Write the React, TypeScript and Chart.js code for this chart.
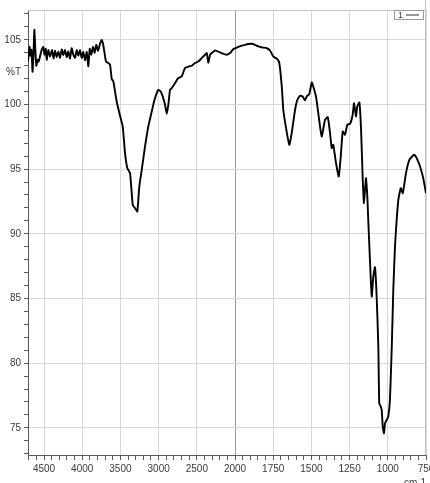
import React, { useEffect, useRef } from 'react';
import { Chart, Scale, registerables } from 'chart.js';

// ---- data ----
const WAVENUMBERS = [
  4710, 4690, 4677, 4664, 4651, 4638, 4627, 4614, 4601, 4585,
  4572, 4553, 4530, 4509, 4496, 4478, 4465, 4444, 4422, 4395,
  4376, 4356, 4334, 4313, 4291, 4268, 4248, 4225, 4203, 4182,
  4160, 4138, 4117, 4094, 4072, 4051, 4029, 4007, 3986, 3963,
  3941, 3920, 3902, 3881, 3859, 3837, 3816, 3793, 3767, 3745,
  3728, 3708, 3689, 3659, 3636, 3614, 3593, 3549, 3505, 3470,
  3440, 3410, 3374, 3339, 3309, 3279, 3253, 3221, 3178, 3135,
  3090, 3060, 3025, 3004, 2973, 2946, 2916, 2894, 2873, 2851,
  2829, 2785, 2742, 2698, 2655, 2611, 2567, 2524, 2480, 2436,
  2393, 2370, 2350, 2327, 2305, 2262, 2196, 2153, 2109, 2065,
  2022, 1989, 1956, 1935, 1913, 1891, 1869, 1847, 1823, 1793,
  1771, 1749, 1723, 1710, 1694, 1684, 1666, 1645, 1629, 1607,
  1592, 1575, 1557, 1542, 1531, 1514, 1498, 1488, 1470, 1455,
  1433, 1411, 1393, 1378, 1367, 1357, 1339, 1321, 1308, 1295,
  1280, 1265, 1247, 1230, 1221, 1208, 1200, 1186, 1175, 1164,
  1156, 1143, 1134, 1128, 1116, 1105, 1095, 1084, 1073, 1062,
  1056, 1046, 1040, 1033, 1025, 1018, 1007, 997, 986, 974,
  964, 953, 942, 931, 915, 902, 881, 859, 828, 811,
  789, 768, 750,
];

const TRANSMITTANCE = [
  103.30, 104.46, 103.76, 104.23, 102.53, 103.84, 105.77, 104.23, 102.99, 103.45,
  103.30, 103.70, 104.25, 104.45, 103.85, 104.30, 103.45, 104.20, 103.70, 104.20,
  103.55, 104.15, 103.65, 104.10, 103.60, 104.25, 103.80, 104.20, 103.65, 104.10,
  103.55, 104.35, 103.85, 103.60, 104.20, 103.75, 104.20, 103.60, 104.05, 103.40,
  104.05, 102.95, 104.30, 103.85, 104.45, 104.00, 104.60, 104.15, 104.70, 104.98,
  104.69, 103.99, 103.32, 103.20, 103.07, 101.98, 101.78, 100.23, 99.12, 98.29,
  96.24, 95.08, 94.69, 92.24, 91.98, 91.72, 93.65, 94.95, 96.75, 98.29,
  99.45, 100.23, 100.88, 101.13, 101.00, 100.61, 99.97, 99.28, 99.97, 101.13,
  101.26, 101.65, 102.04, 102.16, 102.81, 102.93, 102.99, 103.20, 103.32, 103.58,
  103.84, 103.97, 103.22, 103.84, 103.97, 104.17, 104.02, 103.92, 103.84, 103.97,
  104.28, 104.40, 104.54, 104.61, 104.67, 104.69, 104.61, 104.48, 104.40, 104.36,
  104.17, 103.69, 103.51, 103.20, 101.39, 99.59, 98.17, 96.88, 97.78, 99.59,
  100.36, 100.67, 100.61, 100.31, 100.61, 100.80, 101.70, 101.39, 100.61, 99.33,
  97.52, 98.81, 99.02, 97.78, 96.62, 96.88, 95.46, 94.43, 95.97, 97.91,
  97.65, 98.43, 98.50, 99.20, 100.10, 99.07, 99.84, 100.15, 98.04, 94.17,
  92.37, 94.30, 92.88, 91.08, 87.73, 85.15, 86.69, 87.42, 85.15, 81.28,
  76.90, 76.64, 76.39, 75.10, 74.58, 75.36, 75.61, 75.87, 77.16, 81.28,
  85.67, 89.01, 91.08, 92.63, 93.53, 93.14, 94.69, 95.72, 96.11, 95.85,
  95.20, 94.30, 93.14,
];

const X_LABEL_TICKS = [4500, 4000, 3500, 3000, 2500, 2000, 1750, 1500, 1250, 1000, 750];
const Y_LABEL_TICKS = [75, 80, 85, 90, 95, 100, 105];
const SERIES_LABEL = '1';
const Y_TITLE = '%T';
const X_TITLE = 'cm-1';

const X_MIN = 750;
const X_MAX = 4710;
const Y_MIN = 72.9;
const Y_MAX = 107.3;
const X_BREAK = 2000;         // the axis scale halves above this wavenumber
const X_COMPRESS = 2;
const X_MINOR_HIGH = 100;     // minor tick step above the break
const X_MINOR_LOW = 50;       // minor tick step below the break

const FONT_FAMILY = "'Liberation Sans Narrow', 'Liberation Sans', Arial, sans-serif";
const TEXT_COLOR = '#3a3a3a';
const GRID_COLOR = '#d8d8d8';
const AXIS_COLOR = '#5a5a5a';

function toAxisUnits(v: number) {
  return v <= X_BREAK ? v : X_BREAK + (v - X_BREAK) / X_COMPRESS;
}
function fromAxisUnits(u: number) {
  return u <= X_BREAK ? u : X_BREAK + (u - X_BREAK) * X_COMPRESS;
}

class SplitWavenumberScale extends Scale {
  static id = 'splitWavenumber';
  static defaults = {};

  determineDataLimits() {
    this.min = this.options.min;
    this.max = this.options.max;
  }
  buildTicks() {
    const ticks: any[] = [];
    const top = Math.floor(this.max / X_MINOR_HIGH) * X_MINOR_HIGH;
    for (let v = top; v > X_BREAK; v -= X_MINOR_HIGH) ticks.push({ value: v });
    for (let v = X_BREAK; v >= this.min; v -= X_MINOR_LOW) ticks.push({ value: v });
    return ticks;
  }
  getLabelForValue(v: number) {
    return String(v);
  }
  getPixelForValue(v: number) {
    const a = toAxisUnits(this.min);
    const b = toAxisUnits(this.max);
    return this.getPixelForDecimal((b - toAxisUnits(v)) / (b - a));
  }
  getValueForPixel(p: number) {
    const a = toAxisUnits(this.min);
    const b = toAxisUnits(this.max);
    const d = this.getDecimalForPixel(p);
    return fromAxisUnits(b - d * (b - a));
  }
}

Chart.register(...registerables, SplitWavenumberScale);

const decorPlugin = {
  id: 'irDecor',
  beforeDatasetsDraw(chart: any) {
    const { ctx, chartArea: a } = chart;
    ctx.save();
    ctx.strokeStyle = '#c4c4c4';
    ctx.lineWidth = 1;
    ctx.beginPath();
    ctx.moveTo(a.left, Math.round(a.top) + 0.5);
    ctx.lineTo(a.right, Math.round(a.top) + 0.5);
    ctx.moveTo(Math.round(a.right) - 0.5, 0);
    ctx.lineTo(Math.round(a.right) - 0.5, a.bottom);
    ctx.stroke();
    ctx.restore();
  },
  afterDraw(chart: any) {
    const { ctx, chartArea: a, scales } = chart;
    ctx.save();
    ctx.fillStyle = TEXT_COLOR;
    ctx.font = `10px ${FONT_FAMILY}`;
    // y title
    ctx.textAlign = 'right';
    ctx.textBaseline = 'middle';
    ctx.fillText(Y_TITLE, a.left - 7, scales.y.getPixelForValue(102.5));
    // x title
    ctx.textAlign = 'center';
    ctx.textBaseline = 'top';
    ctx.fillText(X_TITLE, a.right - 11, a.bottom + 23);
    // legend box
    const bx = a.right - 32, by = a.top, bw = 29, bh = 9;
    ctx.fillStyle = '#ffffff';
    ctx.fillRect(bx, by, bw, bh);
    ctx.strokeStyle = '#9a9a9a';
    ctx.lineWidth = 1;
    ctx.strokeRect(bx + 0.5, by + 0.5, bw, bh);
    ctx.fillStyle = TEXT_COLOR;
    ctx.textAlign = 'left';
    ctx.textBaseline = 'middle';
    ctx.font = `9px ${FONT_FAMILY}`;
    ctx.fillText(SERIES_LABEL, bx + 4, by + bh / 2 + 1);
    ctx.strokeStyle = '#333';
    ctx.beginPath();
    ctx.moveTo(bx + 12, by + bh / 2 + 0.5);
    ctx.lineTo(bx + 25, by + bh / 2 + 0.5);
    ctx.stroke();
    ctx.restore();
  },
};

export default function App() {
  const ref = useRef<HTMLCanvasElement | null>(null);

  useEffect(() => {
    document.body.style.margin = '0';
    const canvas = ref.current;
    if (!canvas) return;
    const points = WAVENUMBERS.map((w, i) => ({ x: w, y: TRANSMITTANCE[i] }));
    const chart = new Chart(canvas, {
      type: 'line',
      data: {
        datasets: [
          {
            label: SERIES_LABEL,
            data: points,
            borderColor: '#000000',
            borderWidth: 1.9,
            pointRadius: 0,
            tension: 0.15,
            fill: false,
          },
        ],
      },
      options: {
        animation: false,
        responsive: false,
        devicePixelRatio: 1,
        layout: { padding: { left: 0, top: 10, right: 4, bottom: 0 } },
        plugins: {
          legend: { display: false },
          tooltip: { enabled: false },
          title: { display: false },
        },
        scales: {
          x: {
            type: 'splitWavenumber',
            min: X_MIN,
            max: X_MAX,
            afterFit(scale: any) {
              scale.height = 28;
              scale.paddingLeft = 0;
              scale.paddingRight = 0;
            },
            grid: {
              color: (c: any) => {
                const v = c.tick && c.tick.value;
                if (v === X_BREAK) return '#9a9a9a';
                return X_LABEL_TICKS.includes(v) ? GRID_COLOR : 'rgba(0,0,0,0)';
              },
              tickColor: AXIS_COLOR,
              tickLength: 5,
              drawOnChartArea: true,
            },
            border: { display: true, color: AXIS_COLOR, width: 1 },
            ticks: {
              autoSkip: false,
              maxRotation: 0,
              padding: 3,
              color: TEXT_COLOR,
              font: { family: FONT_FAMILY, size: 10 },
              callback: (v: any) => (X_LABEL_TICKS.includes(v) ? String(v) : ''),
            },
          },
          y: {
            type: 'linear',
            min: Y_MIN,
            max: Y_MAX,
            afterFit(scale: any) {
              scale.width = 28;
              scale.paddingTop = 0;
              scale.paddingBottom = 0;
            },
            grid: {
              color: (c: any) =>
                Y_LABEL_TICKS.includes(c.tick && c.tick.value) ? GRID_COLOR : 'rgba(0,0,0,0)',
              tickColor: AXIS_COLOR,
              tickLength: 4,
            },
            border: { display: true, color: AXIS_COLOR, width: 1 },
            ticks: {
              stepSize: 1,
              includeBounds: false,
              autoSkip: false,
              padding: 3,
              color: TEXT_COLOR,
              font: { family: FONT_FAMILY, size: 10 },
              callback: (v: any) => (Y_LABEL_TICKS.includes(v) ? String(v) : ''),
            },
          },
        },
      },
      plugins: [decorPlugin],
    } as any);
    return () => chart.destroy();
  }, []);

  return (
    <div style={{ position: 'fixed', left: 0, top: 0, width: 430, height: 483, background: '#fff' }}>
      <canvas ref={ref} width={430} height={483} style={{ display: 'block' }} />
    </div>
  );
}
